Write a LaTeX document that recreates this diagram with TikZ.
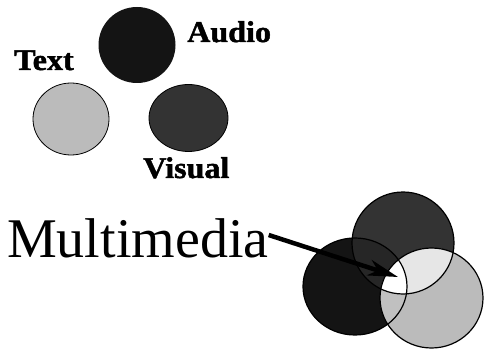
\documentclass[tikz,border=0pt]{standalone}
\usepackage{fontspec}
\setmainfont{Liberation Serif}
\newfontfamily\lblfont[FakeStretch=1.07,FakeBold=1.5]{Liberation Serif Bold}
\usetikzlibrary{arrows.meta}
\definecolor{cblack}{HTML}{141414}
\definecolor{cdark}{HTML}{333333}
\definecolor{clight}{HTML}{BBBBBB}
\definecolor{cbd}{HTML}{262626}
\definecolor{cdl}{HTML}{E6E6E6}
\definecolor{cbl}{HTML}{C0C0C0}
\begin{document}
\begin{tikzpicture}[x=1pt,y=-1pt,
  lbl/.style={anchor=base west,inner sep=0pt,font=\fontsize{30}{31}\lblfont},
  edge/.style={draw=black,line width=1.2pt}]
\useasboundingbox (0,0) rectangle (485,350);
% top circles
\fill[cblack] (137,45) ellipse [x radius=38.5,y radius=38];
\draw[edge,line width=0.8pt,fill=clight] (71,119) ellipse [x radius=38,y radius=36];
\draw[edge,line width=0.8pt,fill=cdark] (188.5,118) ellipse [x radius=39.5,y radius=33.5];
\node[lbl] (audio) at (187,42) {Audio};
\node[lbl] (text) at (14,70) {Text};
\node[lbl] (visual) at (143,178) {Visual};
% bottom circles
\def\cD{(403,243) ellipse [x radius=51,y radius=51]}
\def\cB{(355,286.5) ellipse [x radius=52,y radius=48.5]}
\def\cL{(431.5,298) ellipse [x radius=51.5,y radius=50]}
\fill[cdark] \cD;
\fill[cblack] \cB;
\fill[clight] \cL;
\begin{scope}\clip \cD; \fill[cbd] \cB; \end{scope}
\begin{scope}\clip \cD; \fill[cdl] \cL; \end{scope}
\begin{scope}\clip \cB; \fill[cbl] \cL; \end{scope}
\begin{scope}\clip \cD; \clip \cB; \fill[white] \cL; \end{scope}
\draw[edge] \cD;
\draw[edge] \cB;
\draw[edge] \cL;
\node[anchor=base west,inner sep=0pt,font=\fontsize{56}{57}\selectfont] (mm) at (7,257) {Multimedia};
\coordinate (tip) at (398,277);
\draw[line width=4.5pt,-{Stealth[length=30pt,width=16pt,inset=9pt]}] (mm.east |- 0,235) -- (tip);
\end{tikzpicture}
\end{document}
